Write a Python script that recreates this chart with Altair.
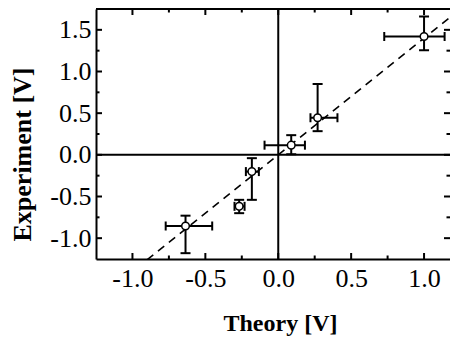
import altair as alt
import pandas as pd

# ---- data ----
theory = [-0.636, -0.268, -0.181, 0.089, 0.270, 1.000]
experiment = [-0.854, -0.618, -0.201, 0.116, 0.445, 1.420]
theory_lo = [-0.772, -0.300, -0.222, -0.094, 0.221, 0.727]
theory_hi = [-0.453, -0.231, -0.133, 0.183, 0.406, 1.141]
exp_lo = [-1.18, -0.70, -0.54, 0.007, 0.284, 1.255]
exp_hi = [-0.73, -0.54, -0.04, 0.236, 0.85, 1.66]

fit_x = [-0.90, 1.25]
fit_y = [-1.26, 1.75]

x_major = [-1.0, -0.5, 0.0, 0.5, 1.0]
x_minor = [-0.75, -0.25, 0.25, 0.75]
y_major = [-1.0, -0.5, 0.0, 0.5, 1.0, 1.5]
y_minor = [-0.75, -0.25, 0.25, 0.75, 1.25]

x_domain = [-1.25, 1.178]
y_domain = [-1.25, 1.75]

W, H = 354, 250
FONT = "Liberation Serif"

pts = pd.DataFrame(dict(theory=theory, experiment=experiment,
                        tlo=theory_lo, thi=theory_hi, elo=exp_lo, ehi=exp_hi))
fit = pd.DataFrame(dict(x=fit_x, y=fit_y))

xs = alt.Scale(domain=x_domain, nice=False, zero=False)
ys = alt.Scale(domain=y_domain, nice=False, zero=False)

lbl = "(datum.value < 0 ? '-' : '') + format(abs(datum.value), '.1f')"

x_axis = alt.Axis(values=x_major, labelExpr=lbl, ticks=False, grid=False,
                  domainColor="black", domainWidth=2,
                  labelFont=FONT, labelFontSize=26, labelColor="black", labelPadding=6,
                  title="Theory [V]", titleFont=FONT, titleFontSize=24,
                  titleFontWeight="bold", titleColor="black", titlePadding=20,
                  titleX=184)
y_axis = alt.Axis(values=y_major, labelExpr=lbl, ticks=False, grid=False,
                  domainColor="black", domainWidth=2,
                  labelFont=FONT, labelFontSize=26, labelColor="black", labelPadding=5,
                  title="Experiment [V]", titleFont=FONT, titleFontSize=26,
                  titleFontWeight="bold", titleColor="black", titlePadding=14,
                  titleY=145)


def X(field):
    return alt.X(field, scale=xs, title="Theory [V]")


def Y(field):
    return alt.Y(field, scale=ys, title="Experiment [V]")


base = alt.Chart(pts)

xerr = base.mark_rule(color="black", strokeWidth=2).encode(
    x=alt.X("tlo:Q", scale=xs, axis=x_axis),
    x2="thi:Q",
    y=alt.Y("experiment:Q", scale=ys, axis=y_axis),
)
yerr = base.mark_rule(color="black", strokeWidth=2).encode(
    x=X("theory:Q"), y=Y("elo:Q"), y2="ehi:Q",
)

caps = []
for f in ["tlo", "thi"]:
    caps.append(base.mark_tick(color="black", orient="vertical", size=9, thickness=2, opacity=1).encode(
        x=X(f"{f}:Q"), y=Y("experiment:Q")))
for f in ["elo", "ehi"]:
    caps.append(base.mark_tick(color="black", orient="horizontal", size=10, thickness=2, opacity=1).encode(
        x=X("theory:Q"), y=Y(f"{f}:Q")))

fit_line = alt.Chart(fit).mark_line(color="black", strokeWidth=1.6, strokeDash=[8, 6], clip=True).encode(
    x=X("x:Q"), y=Y("y:Q"),
)

zero = pd.DataFrame({"v": [0.0]})
vzero = alt.Chart(zero).mark_rule(color="black", strokeWidth=2).encode(x=X("v:Q"))
hzero = alt.Chart(zero).mark_rule(color="black", strokeWidth=2).encode(y=Y("v:Q"))

points = base.mark_point(shape="circle", filled=True, fill="white", stroke="black",
                         strokeWidth=1.5, size=58, opacity=1).encode(
    x=X("theory:Q"), y=Y("experiment:Q"),
)

# frame top line
top_line = alt.Chart(zero).mark_rule(color="black", strokeWidth=2).encode(
    y=alt.value(0), x=alt.value(0), x2=alt.value(W))

# inward ticks on all four sides
tick_layers = []
for vals, length in [(x_major, 12), (x_minor, 7)]:
    df = pd.DataFrame({"t": vals})
    for ypix in [0, H]:
        tick_layers.append(alt.Chart(df).mark_tick(color="black", orient="vertical", size=length,
                                                   thickness=2, opacity=1, clip=True).encode(
            x=X("t:Q"), y=alt.value(ypix)))
for vals, length in [(y_major, 12), (y_minor, 7)]:
    df = pd.DataFrame({"t": vals})
    for xpix in [0, W]:
        tick_layers.append(alt.Chart(df).mark_tick(color="black", orient="horizontal", size=length,
                                                   thickness=2, opacity=1, clip=True).encode(
            y=Y("t:Q"), x=alt.value(xpix)))

chart = alt.layer(
    xerr, yerr, *caps, vzero, hzero, fit_line, top_line, *tick_layers, points
).properties(
    width=W, height=H,
    autosize=alt.AutoSizeParams(type="none"),
    padding={"left": 88, "top": 1, "right": 0, "bottom": 80},
    background="white",
).configure_view(stroke=None)

chart.save("out.html", embed_options={"renderer": "svg", "actions": False})
